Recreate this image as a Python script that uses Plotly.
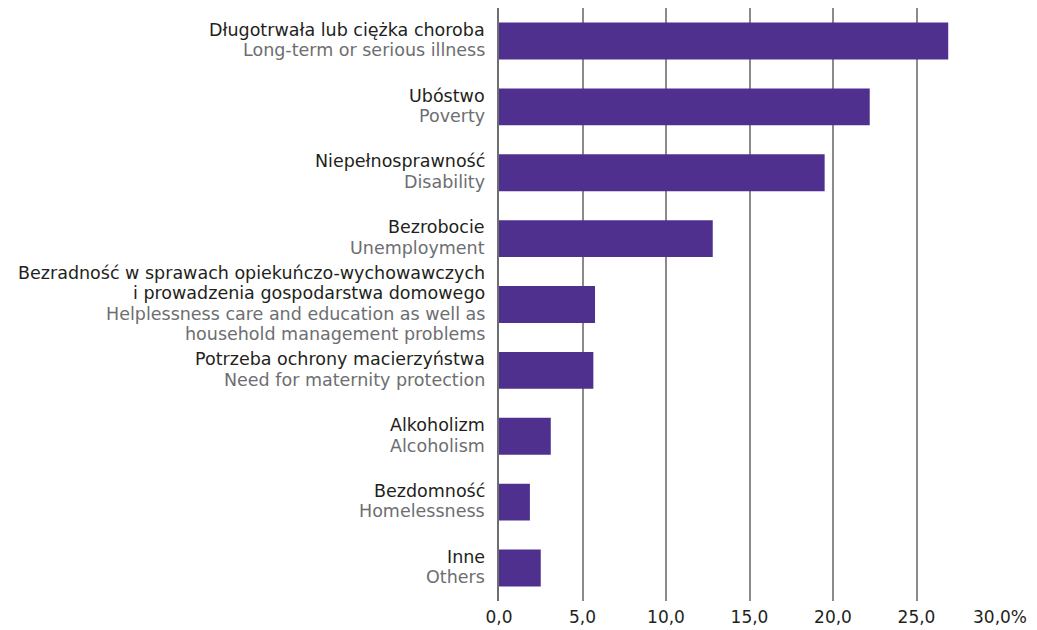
import plotly.graph_objects as go

labels_pl = [
    "Długotrwała lub ciężka choroba",
    "Ubóstwo",
    "Niepełnosprawność",
    "Bezrobocie",
    "Bezradność w sprawach opiekuńczo-wychowawczych|i prowadzenia gospodarstwa domowego",
    "Potrzeba ochrony macierzyństwa",
    "Alkoholizm",
    "Bezdomność",
    "Inne",
]
labels_en = [
    "Long-term or serious illness",
    "Poverty",
    "Disability",
    "Unemployment",
    "Helplessness care and education as well as|household management problems",
    "Need for maternity protection",
    "Alcoholism",
    "Homelessness",
    "Others",
]
values = [26.9, 22.2, 19.5, 12.8, 5.75, 5.65, 3.1, 1.85, 2.5]
x_ticks = [0, 5, 10, 15, 20, 25, 30]
x_ticktext = ["0,0", "5,0", "10,0", "15,0", "20,0", "25,0", "30,0%"]

EN_COLOR = "#6d6e71"
PL_COLOR = "#231f20"
FONT = "DejaVu Sans"
FS = 17.5
LINE_H = 20.5

cats = [f"c{i}" for i in range(len(values))]

fig = go.Figure(
    go.Bar(
        x=values,
        y=cats,
        orientation="h",
        marker=dict(color="#50308f", line=dict(width=0)),
        width=0.56,
        hoverinfo="x",
    )
)

# category labels: Polish line(s) in dark, English line(s) in grey, tight leading
annotations = []
for cat, pl, en in zip(cats, labels_pl, labels_en):
    lines = [(t, PL_COLOR) for t in pl.split("|")] + [(t, EN_COLOR) for t in en.split("|")]
    n = len(lines)
    for i, (txt, col) in enumerate(lines):
        annotations.append(
            dict(
                x=0, xref="paper", xanchor="right", xshift=-12,
                y=cat, yref="y", yanchor="middle",
                yshift=((n - 1) / 2 - i) * LINE_H + 1,
                text=txt, showarrow=False,
                font=dict(family=FONT, size=FS, color=col),
            )
        )

fig.update_layout(
    width=1037,
    height=630,
    margin=dict(l=499, r=37, t=8, b=29, autoexpand=False),
    paper_bgcolor="white",
    plot_bgcolor="white",
    showlegend=False,
    font=dict(family=FONT, size=FS, color=PL_COLOR),
    annotations=annotations,
)
fig.update_xaxes(
    range=[0, 30],
    tickvals=x_ticks,
    ticktext=x_ticktext,
    showgrid=True,
    gridcolor="#8a8a8a",
    gridwidth=1.5,
    zeroline=False,
    showline=False,
    ticks="",
    ticklabelstandoff=4,
    automargin=False,
    tickfont=dict(family=FONT, size=17, color=PL_COLOR),
    fixedrange=True,
)
fig.update_yaxes(
    categoryorder="array",
    categoryarray=cats,
    autorange="reversed",
    showticklabels=False,
    showgrid=False,
    zeroline=False,
    showline=True,
    linecolor="#6d6e71",
    linewidth=1.5,
    ticks="",
    automargin=False,
    fixedrange=True,
)

fig.write_html(
    "out.html",
    config={"displayModeBar": False},
    post_script="document.body.style.margin='0';",
)
